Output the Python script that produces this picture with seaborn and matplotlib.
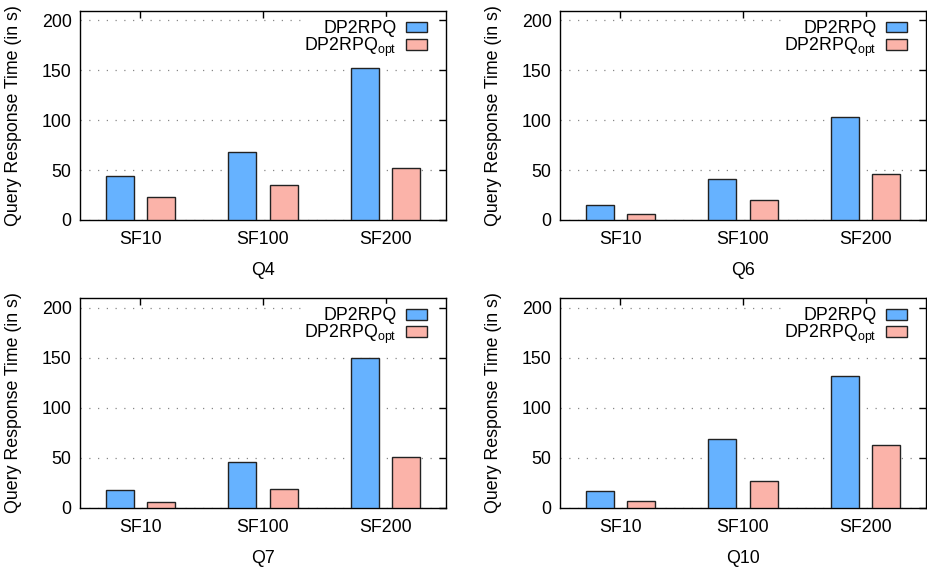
import matplotlib
matplotlib.use("Agg")
import matplotlib.pyplot as plt
import seaborn as sns
import pandas as pd

categories = ["SF10", "SF100", "SF200"]
queries = ["Q4", "Q6", "Q7", "Q10"]
series_names = ["DP2RPQ", "DP2RPQ$_{\\mathrm{opt}}$"]

q4_base = [44, 68, 152]
q4_opt = [23, 35, 52]
q6_base = [15, 41.5, 103]
q6_opt = [6.5, 20, 46.5]
q7_base = [18, 46, 150]
q7_opt = [6, 18.5, 51]
q10_base = [17, 69, 132]
q10_opt = [7, 27, 63]

data_by_query = {
    "Q4": (q4_base, q4_opt),
    "Q6": (q6_base, q6_opt),
    "Q7": (q7_base, q7_opt),
    "Q10": (q10_base, q10_opt),
}

sns.set_theme(style="white")
plt.rcParams["font.family"] = ["Liberation Sans", "DejaVu Sans"]
plt.rcParams["mathtext.fontset"] = "custom"
plt.rcParams["mathtext.rm"] = "Liberation Sans"
plt.rcParams["mathtext.it"] = "Liberation Sans:italic"
plt.rcParams["mathtext.bf"] = "Liberation Sans:bold"
plt.rcParams["text.color"] = "black"
plt.rcParams["axes.labelcolor"] = "black"

FS = 12.8
colors = ["#66b2ff", "#fbb3a9"]

fig = plt.figure(figsize=(9.28, 5.67), dpi=100)
W, H = 928, 567
boxes = [
    (80, 11, 446, 220),
    (560, 11, 926, 220),
    (80, 298, 446, 508),
    (560, 298, 926, 508),
]

for q, (x0, y0, x1, y1) in zip(queries, boxes):
    ax = fig.add_axes([x0 / W, 1 - y1 / H, (x1 - x0) / W, (y1 - y0) / H])
    base, opt = data_by_query[q]
    df = pd.DataFrame({
        "cat": categories * 2,
        "val": list(base) + list(opt),
        "series": [series_names[0]] * 3 + [series_names[1]] * 3,
    })
    sns.barplot(data=df, x="cat", y="val", hue="series", palette=colors,
                width=0.67, gap=0.32, edgecolor="#222222", linewidth=1.0,
                saturation=1, ax=ax, zorder=3)
    ax.set_xlim(-0.49, 2.49)
    ax.set_ylim(0, 209.5)
    ax.set_yticks([0, 50, 100, 150, 200])
    ax.yaxis.grid(True, linestyle=(0, (1, 6)), color="#888888", linewidth=0.9, zorder=0)
    ax.set_axisbelow(True)
    ax.tick_params(axis="both", which="both", direction="in", length=5, width=1,
                   top=True, right=True, labelsize=FS, colors="black", pad=6)
    ax.tick_params(axis="x", pad=8)
    for s in ax.spines.values():
        s.set_color("black")
        s.set_linewidth(1.0)
    ax.set_xlabel(q, fontsize=FS, labelpad=10, color="black")
    ax.set_ylabel("Query Response Time (in s)", fontsize=FS, labelpad=14, color="black")
    handles, labels = ax.get_legend_handles_labels()
    leg = ax.legend(handles, labels, loc="upper right",
                    bbox_to_anchor=(0.958, 0.972), borderaxespad=0.0,
                    markerfirst=False, frameon=True, fontsize=FS,
                    handlelength=1.2, handleheight=0.55,
                    handletextpad=0.5, labelspacing=-0.1, borderpad=0.2,
                    title=None)
    leg.get_frame().set_facecolor("white")
    leg.get_frame().set_edgecolor("white")
    leg.get_frame().set_alpha(1.0)
    leg.set_zorder(2)
    for t in leg.get_texts():
        t.set_ha("right")
        t.set_color("black")

fig.savefig("out.png", dpi=100)
